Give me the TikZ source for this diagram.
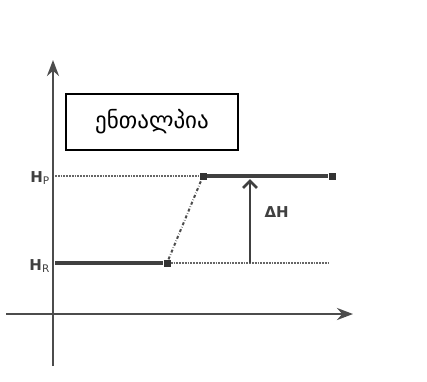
\documentclass[tikz,border=0pt]{standalone}
\usepackage{fontspec}
\setmainfont{DejaVu Sans}
\newfontfamily\geofont{DejaVu Sans}
\usetikzlibrary{arrows.meta,positioning}

\begin{document}
\begin{tikzpicture}[x=1pt,y=-1pt,
  axis/.style={line width=2.6pt,draw=black!70,-{Stealth[length=16pt,width=12pt]}},
  level/.style={line width=3.2pt,draw=black!75},
  guide/.style={densely dotted,line width=1.8pt,draw=black!60},
  dot/.style={fill=black!80,inner sep=0pt,minimum size=7pt},
  lbl/.style={font=\fontsize{15}{18}\selectfont\bfseries,text=black!75},
  >=Stealth
]
\useasboundingbox (0,0) rectangle (427,381);
%% axes
\coordinate (o) at (53,314);
\coordinate (ytop) at (53,60);
\coordinate (ybot) at (53,366);
\coordinate (xleft) at (6,314);
\coordinate (xright) at (353,314);
\draw[axis] (ybot) -- (ytop);
\draw[axis] (xleft) -- (xright);
%% title box
\node[draw,fill=white,line width=1.6pt,minimum width=172pt,minimum height=56pt,
  font=\geofont\fontsize{23}{26}\selectfont] (title) at (152,122) {ენთალპია};
%% levels
\coordinate (hpL) at (55,176);
\coordinate (hrL) at (55,263);
\node[dot] (p1) at (203,176) {};
\node[dot] (p2) at (332,176) {};
\node[dot] (r1) at (167,263) {};
\coordinate (r2) at (330,263);
\node[lbl,anchor=east,inner sep=1pt] (hp) at (51,178) {H$_\mathrm{P}$};
\node[lbl,anchor=east,inner sep=1pt] (hr) at (51,266) {H$_\mathrm{R}$};
\draw[guide] (hpL) -- (p1);
\draw[guide] (r1) -- (r2);
\draw[level] (p1) -- (p2);
\draw[level] (hrL) -- (r1);
\draw[dash dot,line width=2pt,draw=black!70] (r1) -- (p1);
%% enthalpy change
\coordinate (dhB) at (250,263);
\coordinate (dhT) at (250,179);
\draw[line width=2.8pt,draw=black!75,-{Straight Barb[length=7pt,width=14pt]}] (dhB) -- (dhT);
\node[lbl,anchor=west] (dh) at (261,212) {ΔH};
\end{tikzpicture}
\end{document}
